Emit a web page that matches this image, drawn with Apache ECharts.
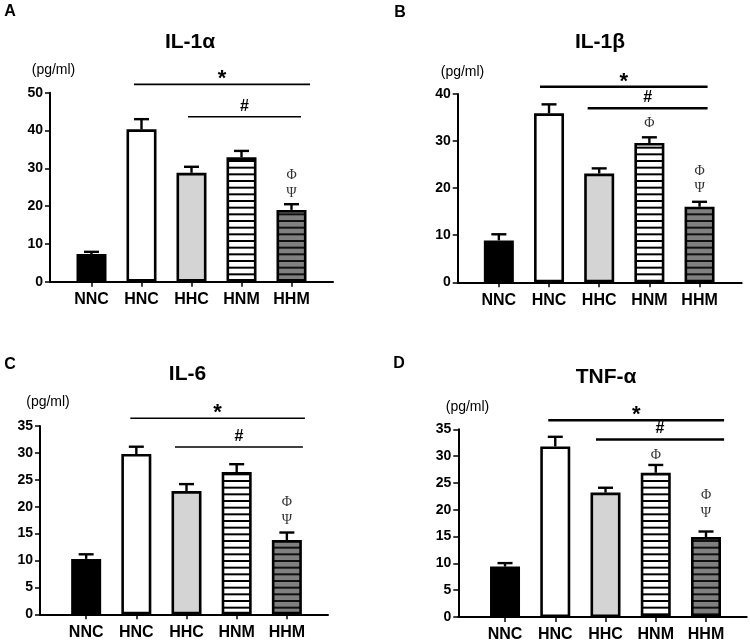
<!DOCTYPE html>
<html><head><meta charset="utf-8">
<script src="https://cdn.jsdelivr.net/npm/echarts@6/dist/echarts.min.js"></script>
<style>html,body{margin:0;padding:0;background:#fff}#c{width:750px;height:643px}</style>
</head><body><div id="c"></div>
<script>
// ---------- data ----------
const categories = ['NNC', 'HNC', 'HHC', 'HNM', 'HHM'];
const panelLetters = ['A', 'B', 'C', 'D'];
const panelTitles = ['IL-1α', 'IL-1β', 'IL-6', 'TNF-α'];
const unitLabel = '(pg/ml)';
const yMaxes = [50, 40, 35, 35];
const yIntervals = [10, 10, 5, 5];

const il1aMean  = [7.3, 40.3, 28.8, 32.9, 19.0];
const il1aUpper = [7.9, 43.0, 30.4, 34.6, 20.5];
const il1bMean  = [8.9, 35.9, 23.1, 29.6, 16.05];
const il1bUpper = [10.2, 37.8, 24.2, 30.8, 17.1];
const il6Mean   = [10.3, 29.8, 22.9, 26.45, 13.8];
const il6Upper  = [11.15, 31.15, 24.2, 27.9, 15.2];
const tnfMean   = [9.4, 31.8, 23.2, 26.9, 14.9];
const tnfUpper  = [10.05, 33.6, 24.1, 28.35, 15.94];

// significance bars: [from (category position), to, y value, symbol]
const il1aSig = [[0.85, 4.37, 52.2, '*'], [1.93, 4.19, 43.65, '#']];
const il1bSig = [[0.82, 4.16, 41.55, '*'], [1.77, 4.16, 36.96, '#']];
const il6Sig  = [[0.88, 4.36, 36.43, '*'], [1.77, 4.32, 31.1, '#']];
const tnfSig  = [[0.86, 4.36, 36.7, '*'], [1.81, 4.36, 33.1, '#']];

// group markers: [category index, y value, symbol]
const il1aMarks = [[4, 28.2, 'Φ'], [4, 23.4, 'Ψ']];
const il1bMarks = [[3, 33.8, 'Φ'], [4, 23.5, 'Φ'], [4, 20.0, 'Ψ']];
const il6Marks  = [[4, 20.9, 'Φ'], [4, 17.5, 'Ψ']];
const tnfMarks  = [[3, 30.2, 'Φ'], [4, 22.7, 'Φ'], [4, 19.4, 'Ψ']];

const means  = [il1aMean, il1bMean, il6Mean, tnfMean];
const uppers = [il1aUpper, il1bUpper, il6Upper, tnfUpper];
const sigs   = [il1aSig, il1bSig, il6Sig, tnfSig];
const marks  = [il1aMarks, il1bMarks, il6Marks, tnfMarks];

// ---------- layout ----------
const grids = [
  {left: 50, top: 92.7, width: 283, height: 189},
  {left: 457.7, top: 94, width: 284, height: 188.3},
  {left: 40, top: 426, width: 288, height: 188.3},
  {left: 458.3, top: 429.3, width: 288.4, height: 188}
];
const xRanges = [[-0.83, 4.83], [-0.82, 4.84], [-0.92, 4.82], [-0.93, 4.81]];
const letterPos = [[10, 12], [400, 12.5], [10, 365], [399, 364]];
const titlePos = [[190, 42], [600, 42], [187.5, 374], [606, 377.5]];
const unitPos = [[53.5, 70.5], [462.5, 72], [48, 402], [467.5, 407]];
const sigLineW = [1.6, 2.4, 1.6, 2.4];

const FONT = '"Liberation Sans", Arial, sans-serif';

function stripes(bg, fg) {
  const c = document.createElement('canvas');
  c.width = 8; c.height = 20;
  const g = c.getContext('2d');
  g.fillStyle = bg; g.fillRect(0, 0, 8, 20);
  g.fillStyle = fg;
  for (let k = 0; k < 3; k++) g.fillRect(0, k * 20 / 3, 8, 2);
  return c;
}
const fills = [
  '#000000',
  '#ffffff',
  '#d4d4d4',
  {image: stripes('#ffffff', '#000000'), repeat: 'repeat'},
  {image: stripes('#808080', '#111111'), repeat: 'repeat'}
];

const option = {
  animation: false,
  backgroundColor: '#fff',
  grid: grids.map(g => Object.assign({containLabel: false}, g)),
  xAxis: grids.map((g, p) => ({
    type: 'value', gridIndex: p,
    min: xRanges[p][0], max: xRanges[p][1],
    splitLine: {show: false},
    axisLine: {show: true, onZero: false, lineStyle: {color: '#000', width: 2}},
    axisTick: {show: true, inside: false, length: 5, customValues: [0, 1, 2, 3, 4], lineStyle: {color: '#000', width: 1.5}},
    axisLabel: {
      show: true, customValues: [0, 1, 2, 3, 4], margin: 10,
      formatter: v => categories[Math.round(v)],
      color: '#000', fontSize: 16, fontWeight: 'bold', fontFamily: FONT
    }
  })),
  yAxis: grids.map((g, p) => ({
    type: 'value', gridIndex: p,
    min: 0, max: yMaxes[p], interval: yIntervals[p],
    splitLine: {show: false},
    axisLine: {show: true, onZero: false, lineStyle: {color: '#000', width: 2}},
    axisTick: {show: true, inside: false, length: 5, lineStyle: {color: '#000', width: 1.5}},
    axisLabel: {margin: 7, color: '#000', fontSize: 14, fontWeight: 'bold', fontFamily: FONT}
  })),
  series: [],
  graphic: []
};

for (let p = 0; p < 4; p++) {
  option.series.push({
    type: 'bar', xAxisIndex: p, yAxisIndex: p,
    barWidth: 30,
    data: means[p].map((v, i) => ({
      value: [i, v],
      itemStyle: {color: fills[i], borderColor: '#000', borderWidth: 2.6}
    })),
    z: 2
  });
  option.series.push({
    type: 'custom', xAxisIndex: p, yAxisIndex: p,
    encode: {x: 0, y: [1, 2]},
    data: means[p].map((v, i) => [i, v, uppers[p][i]]),
    renderItem: function (params, api) {
      const x = api.value(0), m = api.value(1), u = api.value(2);
      const a = api.coord([x, m]), b = api.coord([x, u]);
      return {type: 'group', children: [
        {type: 'line', shape: {x1: a[0], y1: a[1], x2: b[0], y2: b[1]}, style: {stroke: '#000', lineWidth: 2.4}},
        {type: 'line', shape: {x1: b[0] - 7.5, y1: b[1], x2: b[0] + 7.5, y2: b[1]}, style: {stroke: '#000', lineWidth: 2.4}}
      ]};
    },
    z: 3
  });
  const sp = sigs[p];
  option.series.push({
    type: 'custom', xAxisIndex: p, yAxisIndex: p, clip: false,
    encode: {x: [0, 1], y: 2},
    data: sp.map(s => [s[0], s[1], s[2]]),
    renderItem: function (params, api) {
      const s = sp[params.dataIndex];
      const a = api.coord([s[0], s[2]]), b = api.coord([s[1], s[2]]);
      const isStar = s[3] === '*';
      return {type: 'group', children: [
        {type: 'line', shape: {x1: a[0], y1: a[1], x2: b[0], y2: b[1]}, style: {stroke: '#000', lineWidth: sigLineW[p]}},
        {type: 'text', style: {
          text: s[3], x: (a[0] + b[0]) / 2, y: a[1] - (isStar ? 5 : 10.5),
          align: 'center', verticalAlign: 'middle', textAlign: 'center', textVerticalAlign: 'middle',
          font: isStar ? 'bold 22px ' + FONT : 'bold 16px ' + FONT, fill: '#000'
        }}
      ]};
    },
    z: 4
  });
  const mk = marks[p];
  option.series.push({
    type: 'custom', xAxisIndex: p, yAxisIndex: p, clip: false,
    encode: {x: 0, y: 1},
    data: mk.map(m => [m[0], m[1]]),
    renderItem: function (params, api) {
      const m = mk[params.dataIndex];
      const a = api.coord([m[0], m[1]]);
      return {type: 'text', style: {
        text: m[2], x: a[0], y: a[1],
        align: 'center', verticalAlign: 'middle', textAlign: 'center', textVerticalAlign: 'middle',
        font: '14px "Liberation Serif", "DejaVu Serif", serif', fill: '#333'
      }};
    },
    z: 4
  });
  option.graphic.push({type: 'text', x: letterPos[p][0], y: letterPos[p][1], style: {
    text: panelLetters[p], align: 'center', verticalAlign: 'middle', textAlign: 'center', textVerticalAlign: 'middle',
    font: 'bold 16px ' + FONT, fill: '#000'}});
  option.graphic.push({type: 'text', x: titlePos[p][0], y: titlePos[p][1], style: {
    text: panelTitles[p], align: 'center', verticalAlign: 'middle', textAlign: 'center', textVerticalAlign: 'middle',
    font: 'bold 21px ' + FONT, fill: '#000'}});
  option.graphic.push({type: 'text', x: unitPos[p][0], y: unitPos[p][1], style: {
    text: unitLabel, align: 'center', verticalAlign: 'middle', textAlign: 'center', textVerticalAlign: 'middle',
    font: '14px ' + FONT, fill: '#000'}});
}

const chart = echarts.init(document.getElementById('c'), null, {renderer: 'canvas'});
chart.setOption(option);
</script>
</body></html>
